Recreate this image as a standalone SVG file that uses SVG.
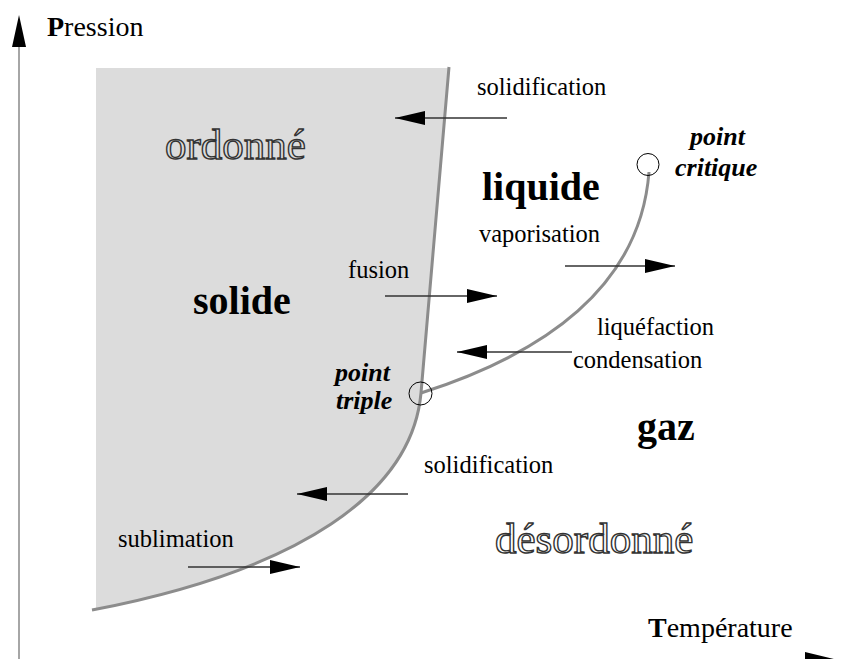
<svg xmlns="http://www.w3.org/2000/svg" width="843" height="659" viewBox="0 0 843 659">
<style>
.t{font-family:"Liberation Serif","Times New Roman",serif;fill:#000}
.lbl{font-size:24.5px}
.ax{font-size:28px}
.big{font-size:40px;font-weight:bold}
.pt{font-size:26px;font-weight:bold;font-style:italic}
.out{font-size:43px;fill:none;stroke:#333;stroke-width:1.4}
.curve{fill:none;stroke:#8c8c8c;stroke-width:3}
.arr{fill:none;stroke:#333;stroke-width:1.3;marker-end:url(#head)}
.circ{fill:none;stroke:#000;stroke-width:1}
</style>
<defs>
<marker id="head" viewBox="0 0 30 14" refX="30" refY="7" markerWidth="30" markerHeight="14" markerUnits="userSpaceOnUse" orient="auto">
<path d="M0 0 L30 7 L0 14 Z" fill="#000"/>
</marker>
</defs>
<rect width="843" height="659" fill="#fff"/>
<g id="solid-region">
<path d="M96 68 L449 68 L421 393 C412 493 300 570 92 610 L96 610 Z" fill="#dcdcdc"/>
</g>
<g id="axes">
<line x1="19" y1="45" x2="19" y2="659" stroke="#888" stroke-width="1.5"/>
<path d="M19 15 L26 47 L12 47 Z" fill="#000"/>
<line x1="20" y1="660" x2="815" y2="660" stroke="#888" stroke-width="1.5"/>
<path d="M805 652 L838 660 L805 668 Z" fill="#000"/>
<text class="t ax" x="47" y="36"><tspan font-weight="bold">P</tspan>ression</text>
<text class="t ax" x="648" y="637"><tspan font-weight="bold">T</tspan>empérature</text>
</g>
<g id="curves">
<path class="curve" d="M449 67 L421 393 C412 493 300 570 92 610"/>
<path class="curve" d="M421 393 C540 355 640 290 649 172"/>
</g>
<g id="triple-point">
<circle class="circ" cx="420.5" cy="393.5" r="11.5"/>
<text class="t pt" x="335" y="381">point</text>
<text class="t pt" x="336" y="409">triple</text>
</g>
<g id="critical-point">
<circle class="circ" cx="648" cy="164.5" r="11"/>
<text class="t pt" x="690" y="145">point</text>
<text class="t pt" x="675" y="176">critique</text>
</g>
<g id="phases">
<text class="t big" x="193" y="314">solide</text>
<text class="t big" x="482" y="200">liquide</text>
<text class="t big" x="637" y="440">gaz</text>
<text class="t out" x="165" y="159">ordonné</text>
<text class="t out" x="495" y="553">désordonné</text>
</g>
<g id="connectors">
<path class="arr" d="M507 118 L395 118"/>
<path class="arr" d="M385 296 L497 296"/>
<path class="arr" d="M565 266 L675 266"/>
<path class="arr" d="M572 352 L457 352"/>
<path class="arr" d="M408 494 L297 494"/>
<path class="arr" d="M188 567 L300 567"/>
</g>
<g id="labels">
<text class="t lbl" x="477" y="95">solidification</text>
<text class="t lbl" x="479" y="242">vaporisation</text>
<text class="t lbl" x="348" y="278">fusion</text>
<text class="t lbl" x="597" y="335">liquéfaction</text>
<text class="t lbl" x="573" y="368">condensation</text>
<text class="t lbl" x="424" y="473">solidification</text>
<text class="t lbl" x="118" y="547">sublimation</text>
</g>
</svg>
